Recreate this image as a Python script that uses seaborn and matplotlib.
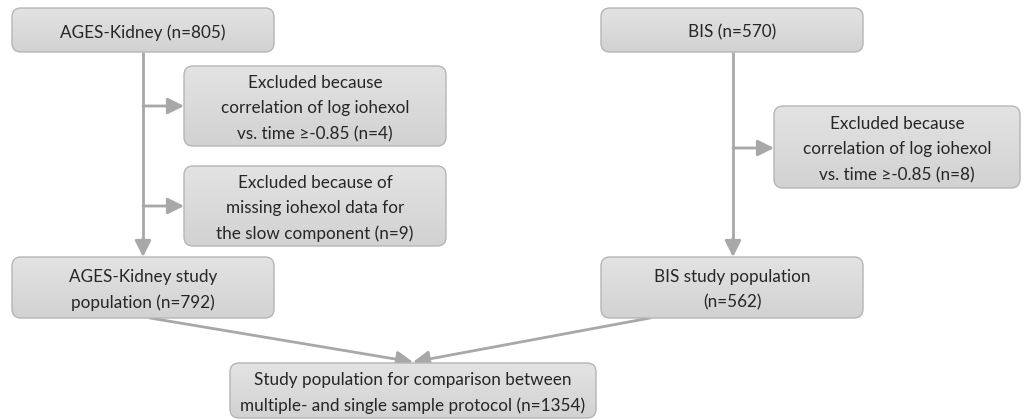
import numpy as np
import matplotlib
matplotlib.use("Agg")
import matplotlib.pyplot as plt
from matplotlib.patches import FancyBboxPatch
from matplotlib.colors import LinearSegmentedColormap
import seaborn as sns

# ---- data ----
cohorts = ["AGES-Kidney", "BIS"]
cohort_n = [805, 570]
excl_corr_n = [4, 8]
excl_missing_n = [9]
study_n = [792, 562]
total_n = 1354

labels = {
    "ages": f"{cohorts[0]} (n={cohort_n[0]})",
    "ages_ex1": f"Excluded because\ncorrelation of log iohexol\nvs. time \u2265-0.85 (n={excl_corr_n[0]})",
    "ages_ex2": f"Excluded because of\nmissing iohexol data for\nthe slow component (n={excl_missing_n[0]})",
    "ages_pop": f"{cohorts[0]} study\npopulation (n={study_n[0]})",
    "bis": f"{cohorts[1]} (n={cohort_n[1]})",
    "bis_ex1": f"Excluded because\ncorrelation of log iohexol\nvs. time \u2265-0.85 (n={excl_corr_n[1]})",
    "bis_pop": f"{cohorts[1]} study population\n(n={study_n[1]})",
    "total": f"Study population for comparison between\nmultiple- and single sample protocol (n={total_n})",
}

# ---- layout (pixel coordinates) ----
boxes = {
    "ages": (12, 8, 274, 52),
    "ages_ex1": (184, 66, 446, 146),
    "ages_ex2": (184, 166, 446, 246),
    "ages_pop": (12, 257, 274, 318),
    "bis": (601, 8, 863, 52),
    "bis_ex1": (774, 106, 1020, 188),
    "bis_pop": (601, 257, 863, 318),
    "total": (230, 363, 596, 418),
}

sns.set_theme(style="white")
plt.rcParams["font.family"] = ["Lato", "DejaVu Sans"]

fig = plt.figure(figsize=(10.23, 4.2), dpi=100)
ax = fig.add_axes([0, 0, 1, 1])
ax.set_xlim(0, 1023)
ax.set_ylim(420, 0)
ax.axis("off")

text_color = "#262626"
edge_color = "#b5b5b5"
line_color = "#a8a8a8"
cmap = LinearSegmentedColormap.from_list("g", ["#e3e3e3", "#d2d2d2"])
grad = np.linspace(0, 1, 64).reshape(-1, 1)

for key, (x0, y0, x1, y1) in boxes.items():
    patch = FancyBboxPatch((x0, y0), x1 - x0, y1 - y0,
                           boxstyle="round,pad=0,rounding_size=9",
                           facecolor="none", edgecolor=edge_color, lw=1.0, zorder=3)
    ax.add_patch(patch)
    im = ax.imshow(grad, extent=(x0, x1, y1, y0), origin="upper", cmap=cmap,
                   aspect="auto", zorder=2, interpolation="bilinear")
    im.set_clip_path(patch)
    ax.text((x0 + x1) / 2, (y0 + y1) / 2 + 2.5, labels[key], ha="center", va="center",
            fontsize=12.3, color=text_color, linespacing=1.72, zorder=4)

ax.set_xlim(0, 1023)
ax.set_ylim(420, 0)

lw = 2.0

def arrow(p0, p1):
    ax.annotate("", xy=p1, xytext=p0,
                arrowprops=dict(arrowstyle="-|>,head_length=0.7,head_width=0.35",
                                color=line_color, lw=lw, shrinkA=0, shrinkB=0,
                                mutation_scale=14), zorder=1)

# AGES vertical trunk
ax.plot([143, 143], [52, 240], color=line_color, lw=lw, zorder=1, solid_capstyle="butt")
arrow((143, 238), (143, 257))
arrow((143, 106), (184, 106))
arrow((143, 206), (184, 206))

# BIS trunk
ax.plot([733, 733], [52, 240], color=line_color, lw=lw, zorder=1, solid_capstyle="butt")
arrow((733, 238), (733, 257))
arrow((733, 148), (774, 148))

# merge arrows
arrow((150, 318), (413, 362))
arrow((650, 318), (413, 362))

fig.savefig("out.png", dpi=100, facecolor="white")
